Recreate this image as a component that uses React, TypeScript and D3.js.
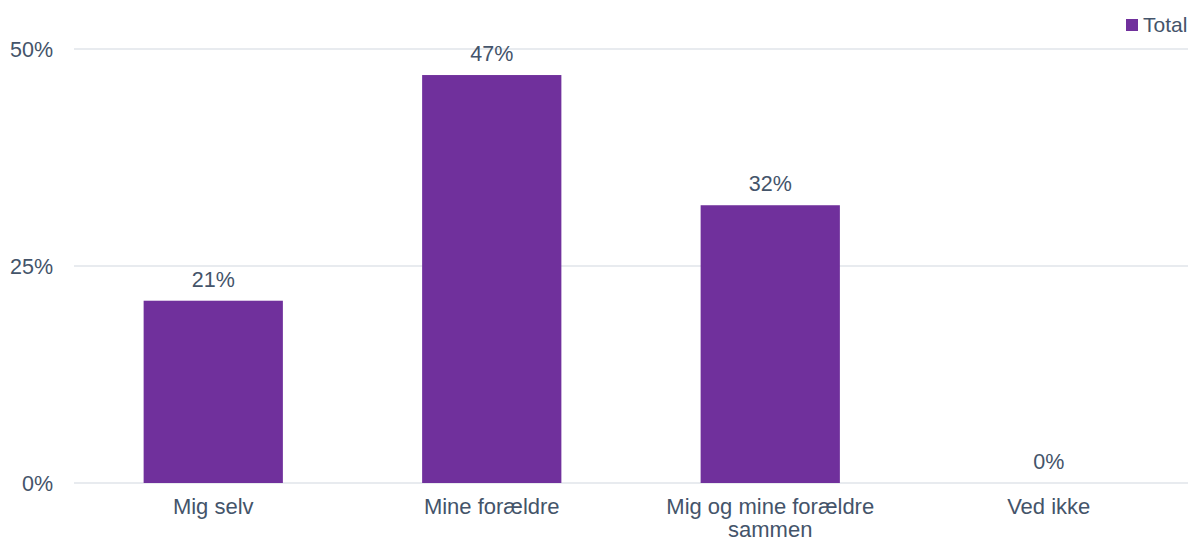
import React from "react";
import * as d3 from "d3";

const categories: string[][] = [["Mig selv"], ["Mine forældre"], ["Mig og mine forældre", "sammen"], ["Ved ikke"]];
const values: number[] = [21, 47, 32, 0];
const yTicks: number[] = [0, 25, 50];
const seriesName = "Total";

const W = 1194, H = 542;
const M = { left: 74, right: 6, top: 49, bottom: 59 };
const COLOR = "#70309c";
const TEXT = "#44546a";
const FONT = "'Liberation Sans', Arial, sans-serif";

export default function App() {
  const x = d3.scaleBand<number>().domain(d3.range(categories.length)).range([M.left, W - M.right]).paddingInner(0.5).paddingOuter(0.25);
  const y = d3.scaleLinear().domain([0, 50]).range([H - M.bottom, M.top]);
  return (
    <svg width={W} height={H} style={{ position: "absolute", left: 0, top: 0 }} fontFamily={FONT}>
      {yTicks.map((t) => (
        <g key={t}>
          <line x1={M.left} x2={W - M.right} y1={y(t)} y2={y(t)} stroke="#e1e4ea" strokeWidth={1.5} />
          <text x={53} y={y(t)} dy="0.36em" textAnchor="end" fontSize={21.5} fill={TEXT}>{t}%</text>
        </g>
      ))}
      {values.map((v, i) => (
        <g key={i}>
          <rect x={x(i)!} width={x.bandwidth()} y={y(v)} height={y(0) - y(v)} fill={COLOR} />
          <text x={x(i)! + x.bandwidth() / 2} y={y(v) - 14} textAnchor="middle" fontSize={21.5} fill={TEXT}>{v}%</text>
          {categories[i].map((line, j) => (
            <text key={j} x={x(i)! + x.bandwidth() / 2} y={y(0) + 31 + j * 23} textAnchor="middle" fontSize={22} fill={TEXT}>{line}</text>
          ))}
        </g>
      ))}
      <rect x={1126} y={19} width={12} height={12} fill={COLOR} />
      <text x={1143} y={32} fontSize={21} fill={TEXT}>{seriesName}</text>
    </svg>
  );
}
